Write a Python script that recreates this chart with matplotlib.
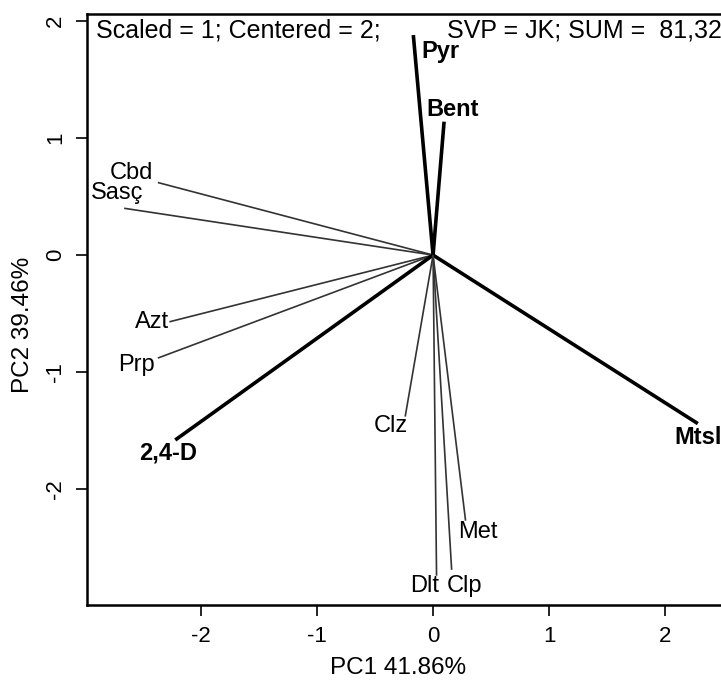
import matplotlib
matplotlib.use("Agg")
import matplotlib.pyplot as plt

plt.rcParams['font.family'] = ['Liberation Sans', 'DejaVu Sans']
plt.rcParams['axes.unicode_minus'] = False

# variable loadings (PC1, PC2)
names = ["Pyr", "Bent", "Cbd", "Sasç", "Azt", "Prp", "2,4-D", "Mtsl", "Clz", "Met", "Dlt", "Clp"]
pc1 = [-0.17, 0.095, -2.37, -2.66, -2.27, -2.37, -2.22, 2.28, -0.24, 0.28, 0.03, 0.16]
pc2 = [1.88, 1.14, 0.62, 0.40, -0.57, -0.88, -1.58, -1.44, -1.38, -2.27, -2.74, -2.69]
bold_vars = ["Pyr", "Bent", "2,4-D", "Mtsl"]

# label offsets from the arrow tips (data units)
label_offset = {
    "Pyr": (0.23, -0.14), "Bent": (0.075, 0.10), "Cbd": (-0.23, 0.08),
    "Sasç": (-0.06, 0.13), "Azt": (-0.15, 0.0), "Prp": (-0.18, -0.06),
    "2,4-D": (-0.06, -0.11), "Mtsl": (0.0, -0.12), "Clz": (-0.12, -0.08),
    "Met": (0.11, -0.10), "Dlt": (-0.10, -0.09), "Clp": (0.11, -0.14),
}

W, H = 721, 681
fig = plt.figure(figsize=(W / 100, H / 100), dpi=100)
ax = fig.add_axes([87 / W, 76 / H, (735 - 87) / W, (605 - 14) / H])

for name, x, y in zip(names, pc1, pc2):
    thick = name in bold_vars
    ax.plot([0, x], [0, y], color="black" if thick else "#333333",
            lw=2.6 if thick else 1.2, solid_capstyle="butt", zorder=2)
    dx, dy = label_offset[name]
    ax.text(x + dx, y + dy, name, ha="center", va="center", fontsize=17,
            fontweight="bold" if thick else "normal", zorder=3)

ax.text(-2.90, 1.92, "Scaled = 1; Centered = 2;", fontsize=18, va="center", ha="left")
ax.text(0.12, 1.92, "SVP = JK; SUM =  81,32", fontsize=18, va="center", ha="left")

ax.set_xlim(-2.98, 2.6)
ax.set_ylim(-2.99, 2.06)
ax.set_xticks([-2, -1, 0, 1, 2])
ax.set_yticks([-2, -1, 0, 1, 2])
ax.tick_params(direction="out", length=8, width=1.2, labelsize=16, pad=7)
for lab in ax.get_yticklabels():
    lab.set_rotation(90)
    lab.set_va("center")
for sp in ax.spines.values():
    sp.set_linewidth(1.8)

ax.set_xlabel("PC1 41.86%", fontsize=17.5)
ax.set_ylabel("PC2 39.46%", fontsize=17.5)
axw, axh = 735 - 87, 605 - 14
ax.xaxis.set_label_coords((398 - 87) / axw, -(668 - 605) / axh)
ax.xaxis.label.set_va("center")
ax.yaxis.set_label_coords(-(87 - 23) / axw, (605 - 325) / axh)
ax.yaxis.label.set_va("center")

fig.savefig("out.png", dpi=100)
